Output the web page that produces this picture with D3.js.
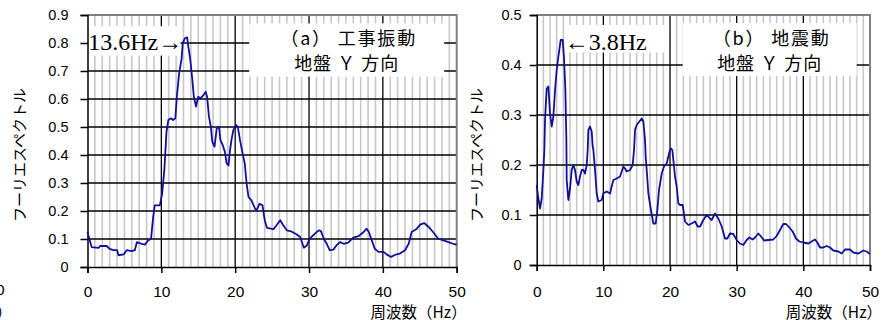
<!DOCTYPE html>
<html><head><meta charset="utf-8">
<script src="https://cdn.jsdelivr.net/npm/d3@7/dist/d3.min.js"></script>
<style>
html,body{margin:0;padding:0;background:#fff;}
svg{display:block;}
</style>
</head><body>
<svg id="c" width="888" height="320"></svg>
<script>
// ---- data ----
const xTicks = [0, 10, 20, 30, 40, 50];
const xLabels = ["0", "10", "20", "30", "40", "50"];
const yTicksA = [0, 0.1, 0.2, 0.3, 0.4, 0.5, 0.6, 0.7, 0.8, 0.9];
const yLabelsA = ["0", "0.1", "0.2", "0.3", "0.4", "0.5", "0.6", "0.7", "0.8", "0.9"];
const yTicksB = [0, 0.1, 0.2, 0.3, 0.4, 0.5];
const yLabelsB = ["0", "0.1", "0.2", "0.3", "0.4", "0.5"];

const freqA = [0,0.56,1.5,1.7,2.6,3.0,3.5,4.0,4.2,4.9,5.3,6.0,6.4,6.7,7.3,7.8,8.2,8.6,8.9,9.1,9.8,10.1,10.4,10.6,10.7,10.95,11.3,11.6,11.9,12.1,12.4,12.75,12.9,13.2,13.5,13.65,13.9,14.2,14.4,14.7,15.0,15.3,15.7,16.0,16.2,16.45,16.7,16.9,17.2,17.5,17.8,18.0,18.3,18.6,18.85,19.1,19.3,19.5,19.75,20.1,20.35,20.65,21.0,21.3,21.55,21.8,22.2,22.7,22.9,23.3,23.7,24.0,24.3,25.2,25.6,26.1,26.5,27.0,27.6,28.3,28.8,29.3,29.7,30.1,30.8,31.3,31.6,32.0,32.4,32.8,33.3,33.7,34.2,34.7,35.3,36.0,36.7,37.4,37.8,38.1,38.5,38.9,39.4,40.1,40.5,41.1,41.7,42.3,43.0,43.5,43.9,44.6,45.1,45.6,46.2,46.8,47.5,48.2,48.9,49.5,50];
const specA = [0.125,0.071,0.068,0.075,0.075,0.065,0.06,0.06,0.042,0.045,0.06,0.057,0.06,0.089,0.083,0.08,0.095,0.1,0.18,0.22,0.22,0.26,0.345,0.436,0.483,0.525,0.531,0.525,0.531,0.608,0.69,0.745,0.8,0.817,0.82,0.787,0.745,0.668,0.608,0.573,0.608,0.602,0.614,0.626,0.608,0.537,0.501,0.448,0.43,0.495,0.501,0.454,0.436,0.412,0.369,0.363,0.417,0.454,0.489,0.507,0.501,0.454,0.406,0.369,0.298,0.25,0.238,0.208,0.202,0.226,0.22,0.167,0.14,0.135,0.149,0.167,0.149,0.131,0.127,0.117,0.107,0.069,0.077,0.101,0.119,0.131,0.129,0.101,0.083,0.06,0.062,0.077,0.089,0.083,0.087,0.105,0.11,0.125,0.137,0.125,0.095,0.065,0.054,0.054,0.045,0.036,0.044,0.048,0.06,0.083,0.125,0.137,0.152,0.157,0.143,0.125,0.101,0.095,0.089,0.083,0.08];

const freqB = [0,0.25,0.5,0.75,1.0,1.15,1.25,1.5,1.75,2.0,2.25,2.5,2.75,3.0,3.25,3.6,3.9,4.1,4.3,4.45,4.5,4.75,5.0,5.25,5.5,5.75,6.0,6.25,6.5,6.75,7.0,7.25,7.5,7.65,7.75,8.0,8.25,8.4,8.5,8.75,9.0,9.25,9.75,10.0,10.5,11.0,11.25,11.5,12.0,12.5,13.0,13.25,13.5,14.0,14.4,14.6,14.75,15.0,15.4,15.75,16.0,16.25,16.35,16.5,16.75,17.1,17.5,17.85,18.1,18.35,18.75,19.1,19.5,19.8,20.0,20.15,20.35,20.5,20.75,21.0,21.25,21.5,21.9,22.25,22.75,23.25,23.75,24.15,24.5,25.0,25.5,26.0,26.25,26.75,27.25,27.75,28.25,28.6,29.0,29.5,30.0,30.5,31.0,31.5,31.9,32.4,32.75,33.25,33.6,34.1,34.75,35.5,36.0,36.5,37.0,37.4,37.9,38.4,38.9,39.4,40.0,40.75,41.25,41.75,42.1,42.5,43.0,43.5,44.0,44.5,45.25,45.75,46.25,47.0,47.5,48.25,49.0,49.5,50];
const specB = [0.16,0.133,0.113,0.133,0.19,0.23,0.29,0.353,0.357,0.303,0.277,0.297,0.35,0.39,0.417,0.45,0.45,0.413,0.35,0.25,0.17,0.13,0.153,0.19,0.2,0.19,0.167,0.16,0.177,0.19,0.19,0.183,0.2,0.23,0.27,0.277,0.267,0.237,0.23,0.19,0.143,0.127,0.13,0.143,0.147,0.143,0.157,0.17,0.173,0.177,0.197,0.193,0.187,0.19,0.2,0.23,0.27,0.28,0.287,0.293,0.287,0.25,0.217,0.19,0.143,0.113,0.083,0.083,0.11,0.15,0.183,0.197,0.203,0.22,0.23,0.233,0.23,0.21,0.177,0.157,0.123,0.12,0.12,0.087,0.08,0.083,0.087,0.077,0.077,0.09,0.1,0.093,0.09,0.103,0.093,0.077,0.053,0.053,0.063,0.062,0.05,0.043,0.04,0.05,0.055,0.051,0.055,0.063,0.058,0.049,0.05,0.051,0.058,0.07,0.082,0.082,0.075,0.067,0.053,0.047,0.045,0.043,0.047,0.051,0.045,0.035,0.035,0.038,0.035,0.029,0.027,0.023,0.031,0.031,0.025,0.023,0.029,0.027,0.022];

const minorFreqs = d3.range(1, 50);

// ---- drawing ----
const svg = d3.select("#c");
const latin = "'Liberation Sans', Arial, sans-serif";
const cjk = "'Noto Sans CJK JP', 'Liberation Sans', sans-serif";
const serif = "'Liberation Serif', 'Times New Roman', serif";

function panel(opt) {
  const x = d3.scaleLinear().domain([0, 50]).range([opt.left, opt.right]);
  const y = d3.scaleLinear().domain([0, opt.ymax]).range([opt.bottom, opt.top]);
  const g = svg.append("g");

  // minor vertical grid
  g.selectAll("line.minor").data(minorFreqs.filter(f => f % 10 !== 0)).join("line")
    .attr("x1", d => x(d)).attr("x2", d => x(d))
    .attr("y1", opt.top).attr("y2", opt.bottom)
    .attr("stroke", "#c8c8c8").attr("stroke-width", 1.6);
  // major vertical grid
  g.selectAll("line.vmaj").data(xTicks.filter(t => t > 0 && t < 50)).join("line")
    .attr("x1", d => x(d)).attr("x2", d => x(d))
    .attr("y1", opt.top).attr("y2", opt.bottom)
    .attr("stroke", "#000").attr("stroke-width", 1.3);
  // horizontal grid
  g.selectAll("line.hmaj").data(opt.yTicks.filter(t => t > 0 && t < opt.ymax - 1e-9)).join("line")
    .attr("x1", opt.left).attr("x2", opt.right)
    .attr("y1", d => y(d)).attr("y2", d => y(d))
    .attr("stroke", "#000").attr("stroke-width", 1.3);
  // border top/right
  g.append("path")
    .attr("d", `M${opt.left},${y(opt.ymax)}H${opt.right}V${opt.bottom}`)
    .attr("fill", "none").attr("stroke", "#808080").attr("stroke-width", 2);

  // annotation boxes (white) covering grid
  opt.boxes.forEach(b => {
    g.append("rect").attr("x", x(b.x0)).attr("y", y(b.y1))
      .attr("width", x(b.x1) - x(b.x0)).attr("height", y(b.y0) - y(b.y1))
      .attr("fill", "#fff");
  });

  // axes
  const yAxis = d3.axisLeft(y).tickValues(opt.yTicks)
    .tickFormat((d, i) => opt.yLabels[i]).tickSize(7).tickPadding(opt.ypad);
  const ya = g.append("g").attr("transform", `translate(${opt.left},0)`).call(yAxis);
  ya.select(".domain").attr("stroke", "#000").attr("stroke-width", 1.5);
  ya.selectAll(".tick line").attr("stroke", "#000").attr("stroke-width", 1.5);
  ya.selectAll("text").attr("font-family", latin).attr("font-size", 14.5).attr("fill", "#000");

  const xAxis = d3.axisBottom(x).tickValues(xTicks)
    .tickFormat((d, i) => xLabels[i]).tickSize(6).tickPadding(opt.xpad);
  const xa = g.append("g").attr("transform", `translate(0,${opt.bottom})`).call(xAxis);
  xa.select(".domain").attr("stroke", "#000").attr("stroke-width", 1.5);
  xa.selectAll(".tick line").attr("stroke", "#000").attr("stroke-width", 1.5);
  xa.selectAll("text").attr("font-family", latin).attr("font-size", 15.5).attr("fill", "#000");

  // curve
  const line = d3.line().x(d => x(d[0])).y(d => y(d[1]));
  g.append("path").datum(opt.freq.map((f, i) => [f, opt.spec[i]]))
    .attr("d", line).attr("fill", "none")
    .attr("stroke", "#10109a").attr("stroke-width", 1.8).attr("stroke-linejoin", "round");

  // y title
  g.append("text").attr("transform", `translate(${opt.ytitleX},155) rotate(-90)`)
    .attr("text-anchor", "middle").attr("dominant-baseline", "central")
    .attr("font-family", cjk).attr("font-size", 15).text("フーリエスペクトル");
  // x title
  g.append("text").attr("x", opt.right + opt.xtitleDx).attr("y", 317.5)
    .attr("text-anchor", "end").attr("font-family", cjk).attr("font-size", 15.5)
    .text("周波数（Hz）");

  // title box text
  const tb = opt.boxes[1];
  const cx = (x(tb.x0) + x(tb.x1)) / 2;
  g.append("text").attr("x", cx + 2).attr("y", 45).attr("text-anchor", "middle")
    .attr("font-family", cjk).attr("font-size", 18).attr("letter-spacing", 1.8)
    .text(opt.title1);
  g.append("text").attr("x", cx).attr("y", 70).attr("text-anchor", "middle")
    .attr("font-family", cjk).attr("font-size", 18).attr("letter-spacing", 1)
    .text("地盤 Ｙ 方向");

  // peak annotation
  g.append("text").attr("x", x(opt.peak.fx)).attr("y", 49.5)
    .attr("text-anchor", opt.peak.anchor).attr("font-family", serif).attr("font-size", 24)
    .text(opt.peak.text);
  return {x, y};
}

panel({
  left: 87.5, right: 456.7, top: 15, bottom: 267, ymax: 0.9,
  yTicks: yTicksA, yLabels: yLabelsA, freq: freqA, spec: specA,
  ypad: 12, xpad: 13,
  ytitleX: 18, xtitleDx: 10,
  boxes: [{x0: 0.1, x1: 12.6, y0: 0.755, y1: 0.86}, {x0: 21.9, x1: 48.3, y0: 0.68, y1: 0.87}],
  title1: "（a） 工事振動",
  peak: {fx: 0.1, anchor: "start", text: "13.6Hz→"}
});
panel({
  left: 536.7, right: 870, top: 15, bottom: 265, ymax: 0.5,
  yTicks: yTicksB, yLabels: yLabelsB, freq: freqB, spec: specB,
  ypad: 8, xpad: 15,
  ytitleX: 475, xtitleDx: 12,
  boxes: [{x0: 4.3, x1: 19.7, y0: 0.425, y1: 0.48}, {x0: 21.9, x1: 48.0, y0: 0.378, y1: 0.484}],
  title1: "（b） 地震動",
  peak: {fx: 4.2, anchor: "start", text: "←3.8Hz"}
});

// remnant of a neighbouring chart at the far left edge
svg.append("text").attr("x", -4).attr("y", 295).attr("text-anchor", "middle")
  .attr("font-family", latin).attr("font-size", 15.5).text("50");
svg.append("text").attr("x", 12).attr("y", 317.5).attr("text-anchor", "end")
  .attr("font-family", cjk).attr("font-size", 15.5).text("周波数（Hz）");
</script>
</body></html>
